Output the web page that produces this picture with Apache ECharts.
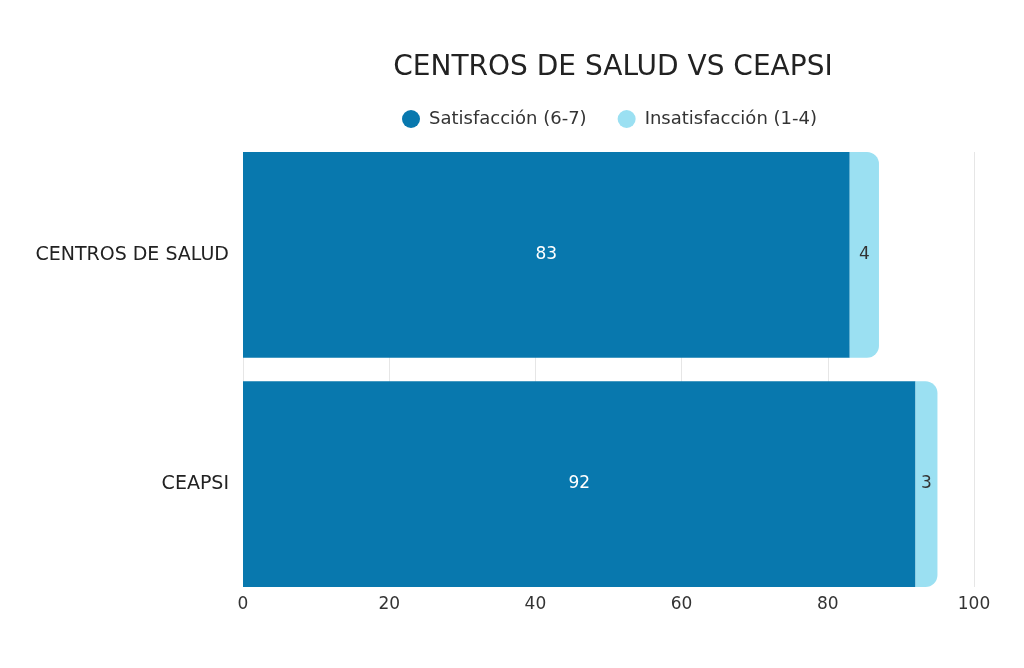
<!DOCTYPE html>
<html><head><meta charset="utf-8">
<script src="https://cdn.jsdelivr.net/npm/echarts@6/dist/echarts.min.js"></script>
<style>html,body{margin:0;padding:0;background:#fff}#c{width:1024px;height:668px}</style>
</head><body><div id="c"></div>
<script>
const categories = ['CENTROS DE SALUD', 'CEAPSI'];
const satisfaccion = [83, 92];
const insatisfaccion = [4, 3];
const xTicks = [0, 20, 40, 60, 80, 100];
const seriesNames = ['Satisfacción (6-7)', 'Insatisfacción (1-4)'];

const FONT = 'DejaVu Sans';
const chart = echarts.init(document.getElementById('c'));
chart.setOption({
  backgroundColor: '#fff',
  textStyle: { fontFamily: FONT },
  title: {
    text: 'CENTROS DE SALUD VS CEAPSI',
    left: 608, top: 49, textAlign: 'center',
    textStyle: { fontFamily: FONT, fontSize: 28, fontWeight: 'normal', color: '#222' }
  },
  legend: {
    top: 105, left: 397,
    icon: 'circle', itemWidth: 18, itemHeight: 18, itemGap: 31,
    textStyle: { fontFamily: FONT, fontSize: 18, color: '#333', padding: [0, 0, 0, 4] },
    data: seriesNames
  },
  grid: [
    { left: 243, right: 50, top: 140.35, bottom: 69.35 },
    { left: 243, right: 50, top: 152, bottom: 81 }
  ],
  xAxis: [
    { gridIndex: 0, type: 'value', min: 0, max: 100, show: false },
    { gridIndex: 1, type: 'value', min: 0, max: 100, interval: 20,
      axisLine: { show: false }, axisTick: { show: false },
      axisLabel: { fontFamily: FONT, fontSize: 17, color: '#333', margin: 9,
        formatter: v => xTicks.includes(v) ? String(v) : '' },
      splitLine: { show: true, lineStyle: { color: '#e6e6e6', width: 1 } } }
  ],
  yAxis: [
    { gridIndex: 0, type: 'category', data: categories, inverse: true,
      axisLine: { show: false }, axisTick: { show: false },
      axisLabel: { fontFamily: FONT, fontSize: 19, color: '#222', margin: 14 } },
    { gridIndex: 1, type: 'value', min: 0, max: 1, show: false }
  ],
  series: [
    { name: seriesNames[0], type: 'bar', stack: 'a', xAxisIndex: 0, yAxisIndex: 0,
      data: satisfaccion, barCategoryGap: '10.2%',
      itemStyle: { color: '#0878ae' },
      label: { show: true, position: 'inside', color: '#fff', fontFamily: FONT, fontSize: 17 } },
    { name: seriesNames[1], type: 'bar', stack: 'a', xAxisIndex: 0, yAxisIndex: 0,
      data: insatisfaccion, barCategoryGap: '10.2%',
      itemStyle: { color: '#9be0f2', borderRadius: [0, 12, 12, 0] },
      label: { show: true, position: 'inside', color: '#333', fontFamily: FONT, fontSize: 17 } }
  ]
});
</script></body></html>
